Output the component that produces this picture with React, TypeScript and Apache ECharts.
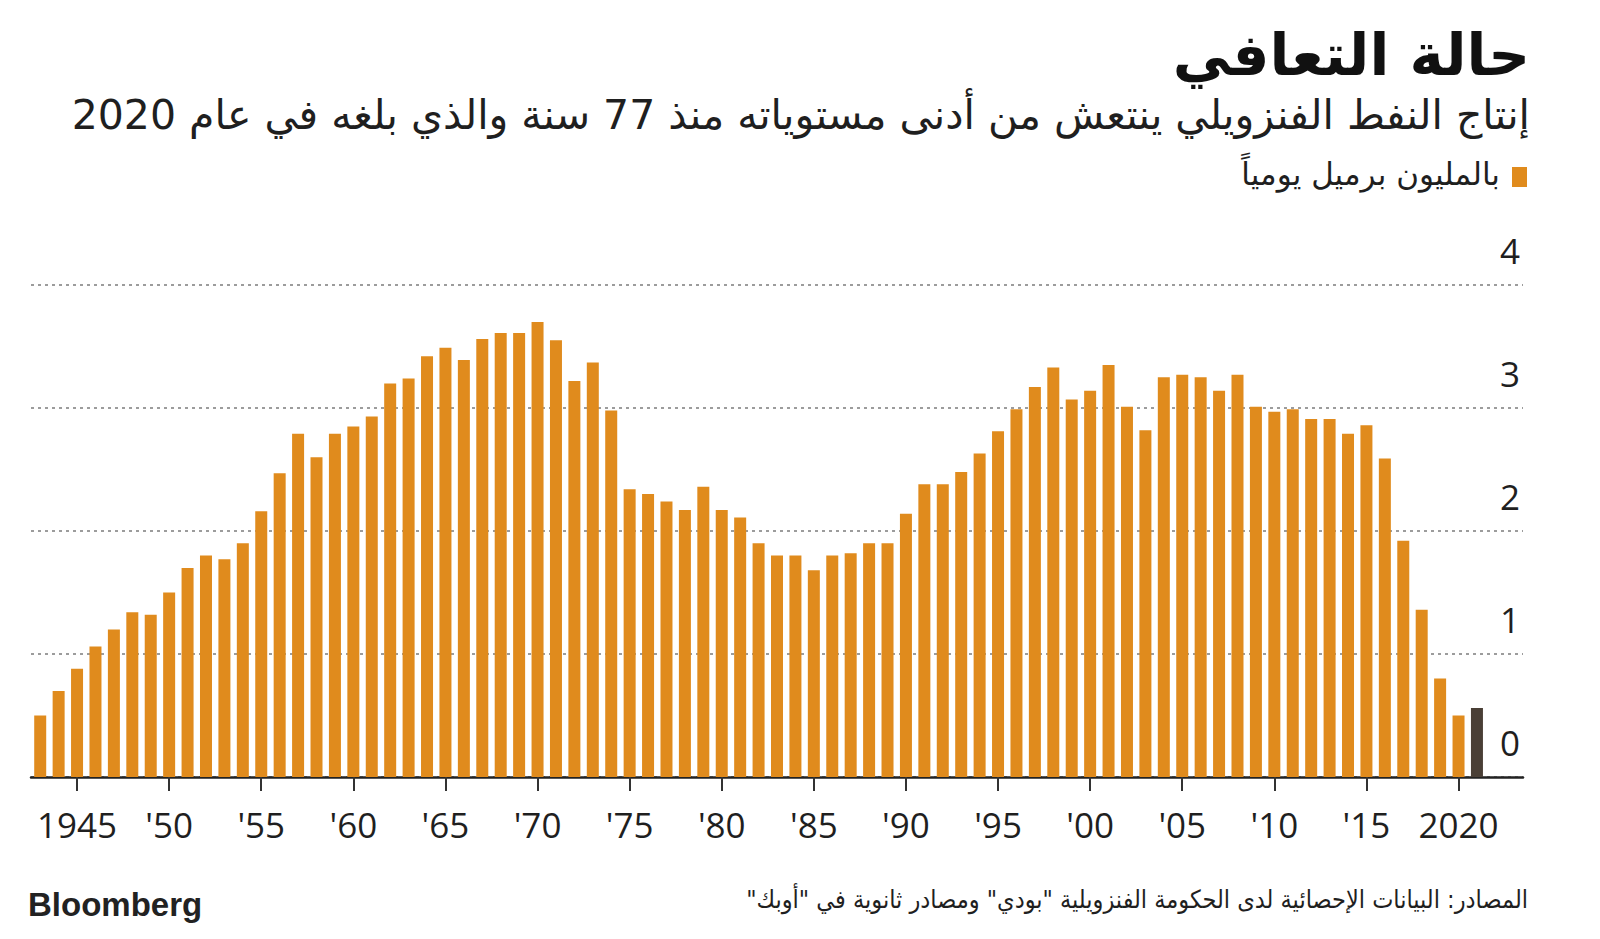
import React, { useEffect, useRef } from "react";
import * as echarts from "echarts";

// Venezuela oil production, million barrels per day
const years = [
  1943, 1944, 1945, 1946, 1947, 1948, 1949, 1950, 1951, 1952,
  1953, 1954, 1955, 1956, 1957, 1958, 1959, 1960, 1961, 1962,
  1963, 1964, 1965, 1966, 1967, 1968, 1969, 1970, 1971, 1972,
  1973, 1974, 1975, 1976, 1977, 1978, 1979, 1980, 1981, 1982,
  1983, 1984, 1985, 1986, 1987, 1988, 1989, 1990, 1991, 1992,
  1993, 1994, 1995, 1996, 1997, 1998, 1999, 2000, 2001, 2002,
  2003, 2004, 2005, 2006, 2007, 2008, 2009, 2010, 2011, 2012,
  2013, 2014, 2015, 2016, 2017, 2018, 2019, 2020, 2021,
];
const production = [
  0.50, 0.70, 0.88, 1.06, 1.20, 1.34, 1.32, 1.50, 1.70, 1.80,
  1.77, 1.90, 2.16, 2.47, 2.79, 2.60, 2.79, 2.85, 2.93, 3.20,
  3.24, 3.42, 3.49, 3.39, 3.56, 3.61, 3.61, 3.70, 3.55, 3.22,
  3.37, 2.98, 2.34, 2.30, 2.24, 2.17, 2.36, 2.17, 2.11, 1.90,
  1.80, 1.80, 1.68, 1.80, 1.82, 1.90, 1.90, 2.14, 2.38, 2.38,
  2.48, 2.63, 2.81, 2.99, 3.17, 3.33, 3.07, 3.14, 3.35, 3.01,
  2.82, 3.25, 3.27, 3.25, 3.14, 3.27, 3.01, 2.97, 2.99, 2.91,
  2.91, 2.79, 2.86, 2.59, 1.92, 1.36, 0.80, 0.50, 0.56,
];
const highlightYear = 2021;
// empty categories after the data, leaving room for the y labels
const paddingCategories = ["2022", "2023"];
const labelledYears = [1945, 1950, 1955, 1960, 1965, 1970, 1975, 1980, 1985, 1990, 1995, 2000, 2005, 2010, 2015, 2020];
const yTicks = { min: 0, max: 4, interval: 1 };

const title = "حالة التعافي";
const subtitle = "إنتاج النفط الفنزويلي ينتعش من أدنى مستوياته منذ 77 سنة والذي بلغه في عام 2020";
const legendLabel = "بالمليون برميل يومياً";
const sourceText = "المصادر: البيانات الإحصائية لدى الحكومة الفنزويلية \"بودي\" ومصادر ثانوية في \"أوبك\"";
const brand = "Bloomberg";

const ORANGE = "#e08b1d";
const DARK = "#4a3f36";
const TEXT = "#1f1f1f";
const ARABIC_C = "'DejaVu Sans Condensed', 'DejaVu Sans', sans-serif";
const ARABIC = "'DejaVu Sans', sans-serif";
const NUM = "'Open Sans', 'DejaVu Sans', sans-serif";
const rtl = (s: string) => "\u202B" + s + "\u202C";

export default function App() {
  const ref = useRef<HTMLDivElement>(null);
  useEffect(() => {
    if (!ref.current) return;
    const chart = echarts.init(ref.current, null, { renderer: "svg" });
    const categories = [...years.map(String), ...paddingCategories];
    const isLabelled = (_i: number, v: string) => labelledYears.includes(Number(v));
    chart.setOption({
      animation: false,
      backgroundColor: "#ffffff",
      grid: { left: 31, right: 77, top: 285, bottom: 162, containLabel: false },
      xAxis: {
        type: "category",
        data: categories,
        axisLine: { show: true, lineStyle: { color: "#222", width: 2.5 } },
        axisTick: {
          show: true,
          alignWithLabel: true,
          interval: isLabelled,
          length: 14,
          lineStyle: { color: "#333", width: 2 },
        },
        axisLabel: {
          interval: isLabelled,
          margin: 30,
          fontSize: 35,
          fontFamily: NUM,
          color: TEXT,
          formatter: (v: string) => {
            const y = Number(v);
            return y === 1945 || y === 2020 ? v : "'" + v.slice(2);
          },
        },
        splitLine: { show: false },
      },
      yAxis: {
        type: "value",
        position: "right",
        min: yTicks.min,
        max: yTicks.max,
        interval: yTicks.interval,
        axisLine: { show: false },
        axisTick: { show: false },
        axisLabel: {
          inside: true,
          margin: 3,
          fontSize: 35,
          fontFamily: NUM,
          color: TEXT,
          align: "right",
          verticalAlign: "bottom",
          lineHeight: 40,
          padding: [0, 0, 15, 0],
        },
        splitLine: { show: true, lineStyle: { color: "#9c9c9c", width: 2, type: [3, 4] } },
      },
      series: [
        {
          type: "bar",
          barWidth: 12,
          data: production.map((v, i) =>
            years[i] === highlightYear ? { value: v, itemStyle: { color: DARK } } : v
          ),
          itemStyle: { color: ORANGE },
        },
      ],
      graphic: [
        {
          type: "text",
          right: 70,
          top: 26,
          style: {
            text: rtl(title),
            fill: "#111",
            font: `bold 58px 'DejaVu Sans', sans-serif`,
          },
        },
        {
          type: "text",
          right: 70,
          top: 94,
          style: {
            text: rtl(subtitle),
            fill: TEXT,
            font: `41px ${ARABIC}`,
          },
        },
        {
          type: "rect",
          shape: { x: 1512, y: 167, width: 15, height: 20 },
          style: { fill: ORANGE },
        },
        {
          type: "text",
          right: 100,
          top: 158,
          style: {
            text: rtl(legendLabel),
            fill: TEXT,
            font: `31px ${ARABIC}`,
          },
        },
        {
          type: "text",
          left: 28,
          top: 888,
          style: {
            text: brand,
            fill: "#222",
            font: `bold 33px 'Liberation Sans', Arial, sans-serif`,
          },
        },
        {
          type: "text",
          right: 72,
          top: 887,
          style: {
            text: rtl(sourceText),
            fill: TEXT,
            font: `25px ${ARABIC_C}`,
          },
        },
      ],
    });
    return () => chart.dispose();
  }, []);
  return (
    <div
      ref={ref}
      style={{ position: "fixed", left: 0, top: 0, width: 1600, height: 939, background: "#fff" }}
    />
  );
}
